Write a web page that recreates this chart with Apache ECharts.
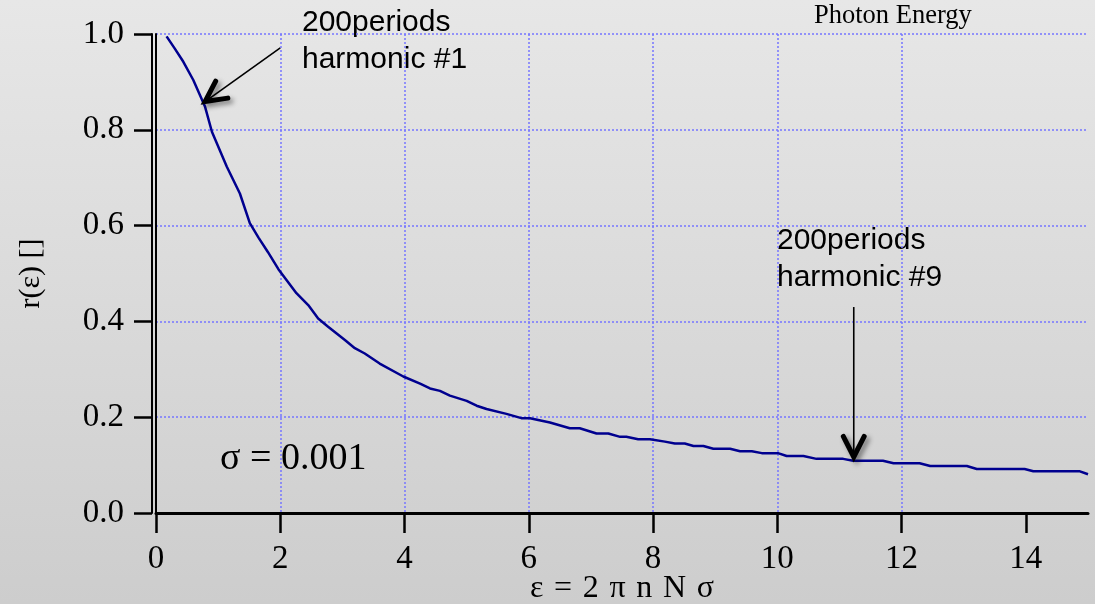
<!DOCTYPE html>
<html>
<head>
<meta charset="utf-8">
<script src="https://cdn.jsdelivr.net/npm/echarts@6/dist/echarts.min.js"></script>
<style>
  html, body { margin: 0; padding: 0; }
  #chart { width: 1095px; height: 604px; }
</style>
</head>
<body>
<div id="chart"></div>
<script>
// Response function r(ε) for a 200-period undulator, σ = 0.001
const epsValues = [0.17, 0.30, 0.44, 0.60, 0.79, 0.90, 1.14, 1.35, 1.51, 1.65, 1.80, 1.97,
  2.26, 2.45, 2.61, 2.77, 3.04, 3.20, 3.36, 3.60, 3.98, 4.25, 4.41, 4.57, 4.73, 5.00,
  5.16, 5.32, 5.64, 5.88, 6.02, 6.34, 6.66, 6.82, 7.09, 7.28, 7.47, 7.57, 7.76, 7.95,
  8.19, 8.35, 8.51, 8.65, 8.81, 8.97, 9.24, 9.40, 9.59, 9.75, 10.01, 10.15, 10.42,
  10.63, 11.06, 11.22, 11.70, 11.87, 12.29, 12.46, 13.05, 13.21, 13.98, 14.12, 14.87, 15.0];
const rValues = [0.995, 0.970, 0.942, 0.904, 0.848, 0.796, 0.723, 0.667, 0.605, 0.575, 0.545, 0.509,
  0.459, 0.434, 0.406, 0.389, 0.361, 0.344, 0.333, 0.312, 0.285, 0.270, 0.260, 0.255, 0.245, 0.234,
  0.224, 0.217, 0.207, 0.198, 0.198, 0.189, 0.177, 0.177, 0.166, 0.166, 0.159, 0.159, 0.154, 0.154,
  0.149, 0.145, 0.145, 0.140, 0.140, 0.134, 0.134, 0.129, 0.129, 0.125, 0.125, 0.119, 0.119,
  0.113, 0.113, 0.109, 0.109, 0.104, 0.104, 0.098, 0.098, 0.092, 0.092, 0.087, 0.087, 0.081];

const xTicks = [0, 2, 4, 6, 8, 10, 12, 14];
const yTicks = [0, 0.2, 0.4, 0.6, 0.8, 1.0];

// Annotation arrows: [tailX, tailY, tipX, tipY] in data units
const arrowTails = [[2.0, 0.971], [11.23, 0.430]];
const arrowTips = [[0.79, 0.859], [11.23, 0.117]];
const arrowLabels = ['200periods\nharmonic #1', '200periods\nharmonic #9'];

const SERIF = "'Liberation Serif', 'Times New Roman', serif";
const SANS = "'Liberation Sans', Arial, sans-serif";
const SP = '\u2004'; // three-per-em space for the spaced-out axis formula

const curve = epsValues.map((x, i) => [x, rValues[i]]);
const arrows = arrowTails.map((t, i) => [t[0], t[1], arrowTips[i][0], arrowTips[i][1]]);

const gridLine = { color: '#7575ff', width: 1.5, type: [2, 2] };

const chart = echarts.init(document.getElementById('chart'), null, { renderer: 'canvas' });

chart.setOption({
  animation: false,
  backgroundColor: new echarts.graphic.LinearGradient(0, 0, 0, 1, [
    { offset: 0, color: '#e7e7e7' },
    { offset: 1, color: '#cdcdcd' }
  ]),
  title: {
    text: 'Photon Energy',
    left: 809,
    top: -2,
    textStyle: { fontFamily: SERIF, fontSize: 26.5, fontWeight: 'normal', color: '#000' }
  },
  grid: { left: 156, right: 7, top: 34, bottom: 91, containLabel: false, outerBoundsMode: 'none' },
  xAxis: {
    type: 'value',
    min: 0,
    max: 15,
    interval: 2,
    name: ['ε', '=', '2', 'π', 'n', 'N', 'σ'].join(SP),
    nameLocation: 'middle',
    nameGap: 60,
    nameMoveOverlap: false,
    nameTextStyle: { fontFamily: SERIF, fontSize: 32, color: '#000' },
    axisLine: { show: true, onZero: false, lineStyle: { color: '#000', width: 3 } },
    axisTick: { show: true, length: 20, customValues: xTicks, lineStyle: { color: '#000', width: 2.5 } },
    axisLabel: {
      customValues: xTicks,
      margin: 30,
      fontFamily: SERIF,
      fontSize: 33,
      color: '#000'
    },
    splitLine: { show: true, showMinLine: false, showMaxLine: false, lineStyle: gridLine }
  },
  yAxis: [
    {
      type: 'value',
      min: 0,
      max: 1,
      interval: 0.2,
      position: 'left',
      axisLine: { show: true, onZero: false, lineStyle: { color: '#000', width: 2 } },
      axisTick: { show: false },
      axisLabel: { show: false },
      splitLine: { show: true, showMinLine: false, lineStyle: gridLine }
    },
    {
      type: 'value',
      min: 0,
      max: 1,
      interval: 0.2,
      position: 'left',
      offset: 4,
      name: 'r(ε) []',
      nameLocation: 'middle',
      nameGap: 106,
      nameRotate: 90,
      nameMoveOverlap: false,
      nameTextStyle: { fontFamily: SERIF, fontSize: 30, color: '#000' },
      axisLine: { show: true, onZero: false, lineStyle: { color: '#000', width: 2 } },
      axisTick: { show: true, length: 18, customValues: yTicks, lineStyle: { color: '#000', width: 2.5 } },
      axisLabel: {
        customValues: yTicks,
        margin: 28,
        fontFamily: SERIF,
        fontSize: 33,
        color: '#000',
        formatter: v => v.toFixed(1)
      },
      splitLine: { show: false }
    }
  ],
  graphic: [
    {
      type: 'text',
      left: 220,
      top: 440,
      style: { text: 'σ = 0.001', font: '38px ' + SERIF, fill: '#000' }
    },
    {
      type: 'text',
      left: 302,
      top: 4,
      style: { text: arrowLabels[0], font: '30px ' + SANS, lineHeight: 37, fill: '#000' }
    },
    {
      type: 'text',
      left: 777,
      top: 222,
      style: { text: arrowLabels[1], font: '30px ' + SANS, lineHeight: 37, fill: '#000' }
    }
  ],
  series: [
    {
      type: 'line',
      xAxisIndex: 0,
      yAxisIndex: 0,
      data: curve,
      showSymbol: false,
      symbol: 'none',
      lineStyle: { color: '#00008f', width: 2.5 },
      z: 3
    },
    {
      type: 'custom',
      xAxisIndex: 0,
      yAxisIndex: 0,
      data: arrows,
      encode: { x: [0, 2], y: [1, 3] },
      z: 4,
      renderItem: function (params, api) {
        const tail = api.coord([api.value(0), api.value(1)]);
        const tip = api.coord([api.value(2), api.value(3)]);
        const ang = Math.atan2(tail[1] - tip[1], tail[0] - tip[0]);
        const armLen = 23;
        const spread = 27 * Math.PI / 180;
        const a1 = [tip[0] + armLen * Math.cos(ang + spread), tip[1] + armLen * Math.sin(ang + spread)];
        const a2 = [tip[0] + armLen * Math.cos(ang - spread), tip[1] + armLen * Math.sin(ang - spread)];
        return {
          type: 'group',
          children: [
            {
              type: 'line',
              shape: { x1: tail[0], y1: tail[1], x2: tip[0], y2: tip[1] },
              style: { stroke: '#000', lineWidth: 1.6 }
            },
            {
              type: 'polyline',
              shape: { points: [a1, tip, a2] },
              style: {
                stroke: '#000',
                fill: null,
                lineWidth: 5,
                lineCap: 'round',
                lineJoin: 'miter',
                shadowBlur: 5,
                shadowOffsetX: 3,
                shadowOffsetY: 3,
                shadowColor: 'rgba(0,0,0,0.45)'
              }
            }
          ]
        };
      }
    }
  ]
});
</script>
</body>
</html>
